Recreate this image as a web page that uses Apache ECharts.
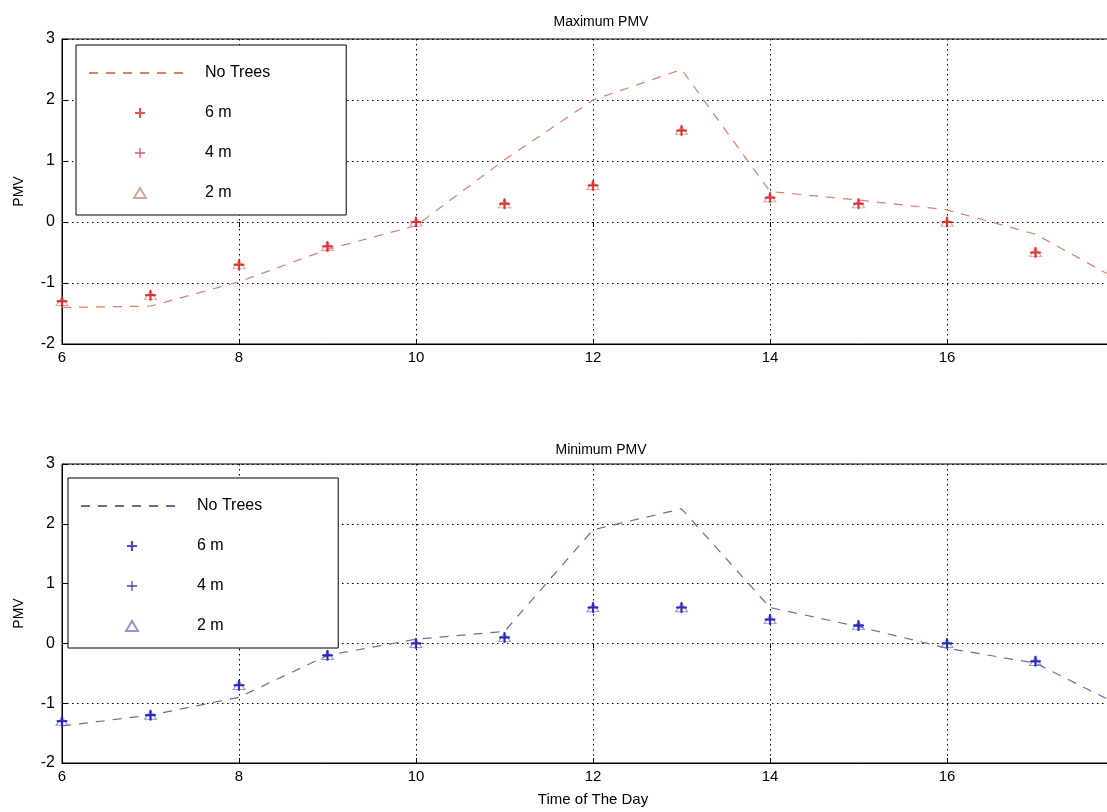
<!DOCTYPE html>
<html>
<head>
<meta charset="utf-8">
<script src="https://cdn.jsdelivr.net/npm/echarts@6/dist/echarts.min.js"></script>
<style>
html,body{margin:0;padding:0;background:#fff;overflow:hidden;width:1107px;height:812px;}
#chart{width:1140px;height:812px;}
</style>
</head>
<body>
<div id="chart"></div>
<script>
// ---- data ----
var hours = [6, 7, 8, 9, 10, 11, 12, 13, 14, 15, 16, 17];
var lineHours = [6, 7, 8, 9, 10, 11, 12, 13, 14, 15, 16, 17, 18];
var maxNoTrees = [-1.4, -1.38, -0.98, -0.45, -0.06, 1.02, 2.0, 2.5, 0.5, 0.36, 0.2, -0.2, -1.0];
var max6m = [-1.3, -1.2, -0.7, -0.4, 0.0, 0.3, 0.6, 1.5, 0.4, 0.3, 0.0, -0.5];
var max4m = [-1.3, -1.2, -0.7, -0.4, 0.0, 0.3, 0.6, 1.5, 0.4, 0.3, 0.0, -0.5];
var max2m = [-1.3, -1.2, -0.7, -0.4, 0.0, 0.3, 0.6, 1.5, 0.4, 0.3, 0.0, -0.5];
var minNoTrees = [-1.38, -1.2, -0.9, -0.2, 0.07, 0.2, 1.9, 2.25, 0.6, 0.28, -0.08, -0.33, -1.07];
var min6m = [-1.3, -1.2, -0.7, -0.2, 0.0, 0.1, 0.6, 0.6, 0.4, 0.3, 0.0, -0.3];
var min4m = [-1.3, -1.2, -0.7, -0.2, 0.0, 0.1, 0.6, 0.6, 0.4, 0.3, 0.0, -0.3];
var min2m = [-1.3, -1.2, -0.7, -0.2, 0.0, 0.1, 0.6, 0.6, 0.4, 0.3, 0.0, -0.3];
var xTicks = [6, 8, 10, 12, 14, 16, 18];
var yTicks = [-2, -1, 0, 1, 2, 3];
var titles = ['Maximum PMV', 'Minimum PMV'];
var legendNames = ['No Trees', '6 m', '4 m', '2 m'];

function pairs(xs, ys) { return ys.map(function (v, i) { return [xs[i], v]; }); }

var boldPlus = 'path://M3.9,0h2.2v3.9h3.9v2.2h-3.9v3.9h-2.2v-3.9h-3.9v-2.2h3.9z';
var thinPlus = 'path://M4.35,0h1.3v4.35h4.35v1.3h-4.35v4.35h-1.3v-4.35h-4.35v-1.3h4.35z';
var triPath = 'path://M6,0L12,10L0,10Z';

var FONT = 'Liberation Sans, Arial, sans-serif';

function xAxisFor(gi, showName) {
  return {
    type: 'value', gridIndex: gi, min: xTicks[0], max: xTicks[xTicks.length - 1], interval: 2,
    axisLine: { show: true, onZero: false, lineStyle: { color: '#000', width: 1 } },
    axisTick: { show: true, inside: true, length: 5, lineStyle: { color: '#000' } },
    axisLabel: { color: '#000', fontSize: 15, fontFamily: FONT, margin: 6 },
    splitLine: { show: true, lineStyle: { color: '#000', type: [1.5, 3.5], width: 1 } },
    name: showName ? 'Time of The Day' : '',
    nameLocation: 'middle', nameGap: 29,
    nameTextStyle: { color: '#000', fontSize: 15, fontFamily: FONT }
  };
}
function topAxisFor(gi) {
  return {
    type: 'value', gridIndex: gi, min: xTicks[0], max: xTicks[xTicks.length - 1], interval: 2, position: 'top',
    axisLine: { show: false },
    axisTick: { show: true, inside: true, length: 5, lineStyle: { color: '#000' } },
    axisLabel: { show: false }, splitLine: { show: false }
  };
}
function yAxisFor(gi) {
  return {
    type: 'value', gridIndex: gi, min: yTicks[0], max: yTicks[yTicks.length - 1], interval: 1,
    axisLine: { show: true, onZero: false, lineStyle: { color: '#000', width: 1 } },
    axisTick: { show: true, inside: true, length: 5, lineStyle: { color: '#000' } },
    axisLabel: { color: '#000', fontSize: 16, fontFamily: FONT, margin: 7,
      formatter: function (v) { return String(v); } },
    splitLine: { show: true, lineStyle: { color: '#000', type: [1.5, 3.5], width: 1 } },
    name: 'PMV', nameLocation: 'middle', nameGap: 36, nameRotate: 90,
    nameTextStyle: { color: '#000', fontSize: 14, fontFamily: FONT }
  };
}

function seriesFor(prefix, gi, lineVals, s6, s4, s2, lineColor, markColor, thinColor, triColor) {
  var xi = gi * 2;
  return [
    { name: prefix + '|No Trees', type: 'line', xAxisIndex: xi, yAxisIndex: gi,
      data: pairs(lineHours, lineVals), symbol: 'none', showSymbol: false, smooth: false,
      lineStyle: { color: lineColor, width: 1.2, type: [9, 8] }, itemStyle: { color: lineColor },
      z: 2, silent: true, animation: false },
    { name: prefix + '|2 m', type: 'scatter', xAxisIndex: xi, yAxisIndex: gi,
      data: pairs(hours, s2), symbol: triPath, symbolSize: [12, 10], symbolKeepAspect: true,
      itemStyle: { color: 'rgba(255,255,255,0)', borderColor: triColor, borderWidth: 1 },
      z: 3, animation: false },
    { name: prefix + '|4 m', type: 'scatter', xAxisIndex: xi, yAxisIndex: gi,
      data: pairs(hours, s4), symbol: thinPlus, symbolSize: 11, symbolKeepAspect: true,
      itemStyle: { color: thinColor }, z: 4, animation: false },
    { name: prefix + '|6 m', type: 'scatter', xAxisIndex: xi, yAxisIndex: gi,
      data: pairs(hours, s6), symbol: boldPlus, symbolSize: 10, symbolKeepAspect: true,
      itemStyle: { color: markColor }, z: 5, animation: false }
  ];
}

function legendFor(prefix, left, top, padRight) {
  return {
    orient: 'vertical', left: left, top: top,
    data: legendNames.map(function (n, i) {
      var item = { name: prefix + '|' + n };
      if (i === 0) item.itemStyle = { color: 'rgba(0,0,0,0)', borderWidth: 0, opacity: 0 };
      return item;
    }),
    formatter: function (n) { return n.split('|')[1]; },
    itemWidth: 102, itemHeight: 10, itemGap: 24,
    padding: [20, padRight, 14, 12],
    backgroundColor: '#fff', borderColor: '#000', borderWidth: 1, borderRadius: 0,
    textStyle: { color: '#000', fontSize: 16, fontFamily: FONT, lineHeight: 16, padding: [0, 0, 0, 9] },
    selectedMode: false
  };
}

var chart = echarts.init(document.getElementById('chart'), null, { renderer: 'canvas' });
var option = {
  backgroundColor: '#fff',
  animation: false,
  title: [
    { text: titles[0], left: 596, top: 10, textAlign: 'center',
      textStyle: { color: '#000', fontSize: 14, fontWeight: 'normal', fontFamily: FONT } },
    { text: titles[1], left: 596, top: 438, textAlign: 'center',
      textStyle: { color: '#000', fontSize: 14, fontWeight: 'normal', fontFamily: FONT } }
  ],
  grid: [
    { left: 62, top: 39, width: 1062, height: 305, show: true, borderColor: '#000', borderWidth: 1, backgroundColor: '#fff', containLabel: false },
    { left: 62, top: 464, width: 1062, height: 299, show: true, borderColor: '#000', borderWidth: 1, backgroundColor: '#fff', containLabel: false }
  ],
  xAxis: [xAxisFor(0, false), topAxisFor(0), xAxisFor(1, true), topAxisFor(1)],
  yAxis: [yAxisFor(0), yAxisFor(1)],
  legend: [
    legendFor('max', 76, 45, 76),
    legendFor('min', 68, 478, 76)
  ],
  series: [].concat(
    seriesFor('max', 0, maxNoTrees, max6m, max4m, max2m, '#d8806a', '#e02828', '#d03040', '#c89080'),
    seriesFor('min', 1, minNoTrees, min6m, min4m, min2m, '#6c6ca4', '#2020c8', '#202080', '#7a7ac0')
  )
};
chart.setOption(option);
</script>
</body>
</html>
